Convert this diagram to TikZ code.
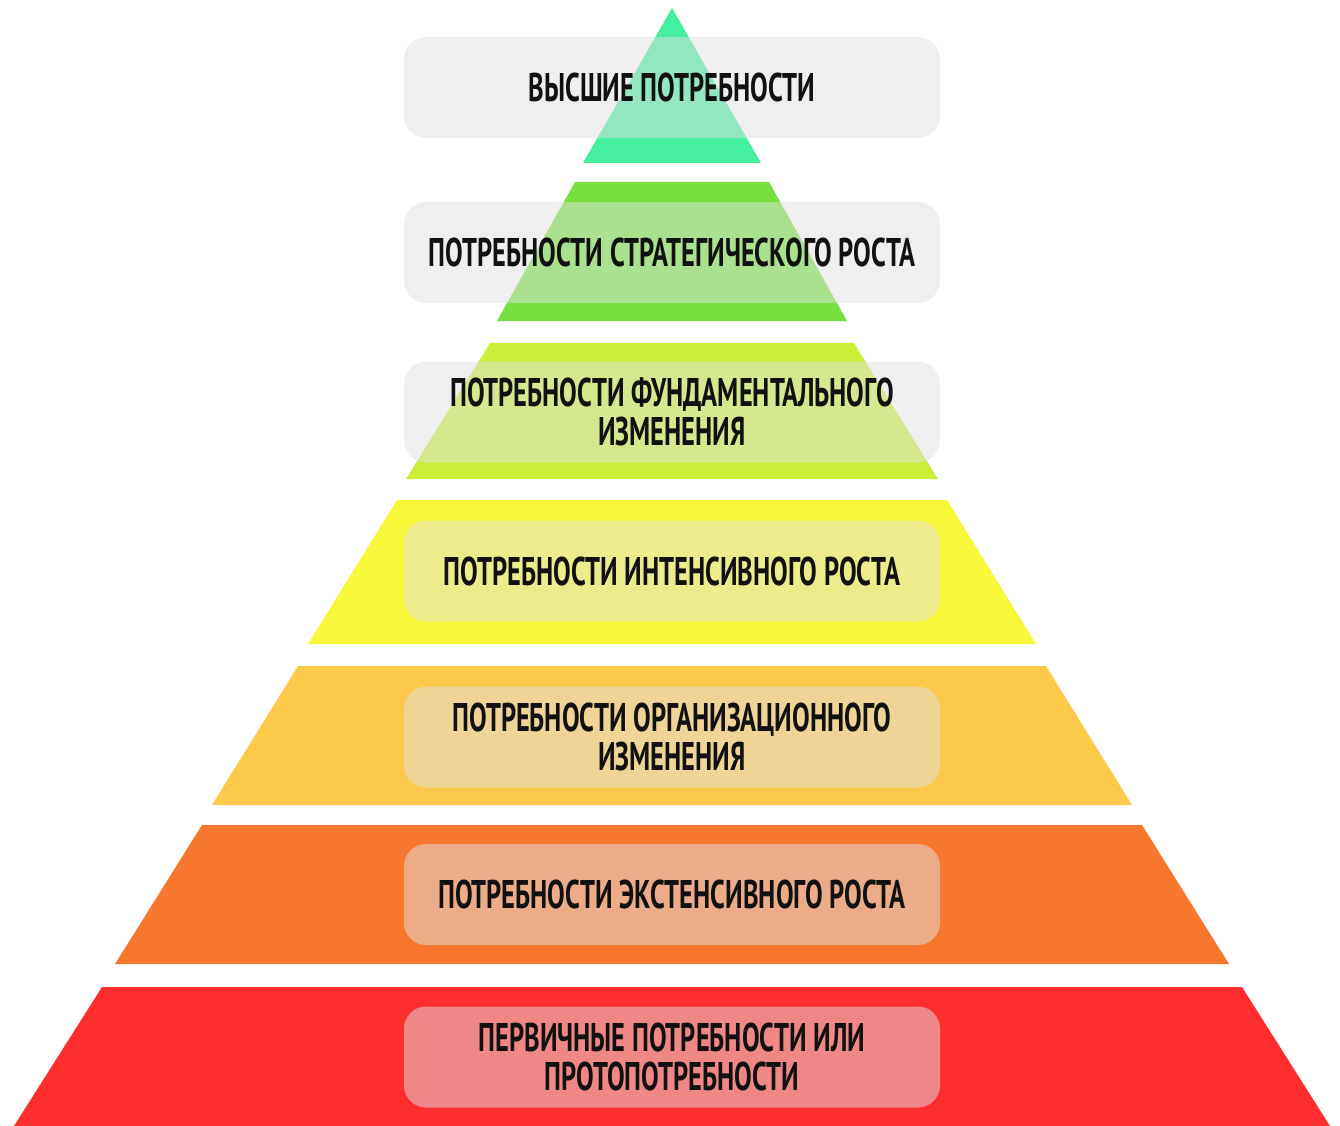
\documentclass[tikz,border=0pt]{standalone}
\usepackage{fontspec}
\setmainfont{PT Sans}[BoldFont={PT Sans Bold}]
\newfontfamily\labelfont{PT Sans Bold}[FakeStretch=0.66]
\definecolor{cA}{RGB}{70,238,160}
\definecolor{cB}{RGB}{118,224,62}
\definecolor{cC}{RGB}{204,240,58}
\definecolor{cD}{RGB}{248,248,58}
\definecolor{cE}{RGB}{253,201,74}
\definecolor{cF}{RGB}{247,120,46}
\definecolor{cG}{RGB}{255,46,46}
\definecolor{boxgray}{RGB}{225,225,225}
\definecolor{txt}{RGB}{17,17,17}
\begin{document}
\begin{tikzpicture}[x=1pt,y=-1pt,
  labelbox/.style={rounded corners=22pt, fill=boxgray, fill opacity=0.5, text opacity=1,
    minimum width=536pt, minimum height=101pt, inner sep=0pt, align=center,
    font=\labelfont\fontsize{40}{39}\selectfont, text=txt}]
\useasboundingbox (0,0) rectangle (1340,1126);
\fill[white] (0,0) rectangle (1340,1126);
% pyramid layers
\fill[cA] (672,8) -- (761,163) -- (583,163) -- cycle;
\fill[cB] (575,182) -- (769,182) -- (847,321) -- (497,321) -- cycle;
\fill[cC] (490,343) -- (854,343) -- (938,479) -- (406,479) -- cycle;
\fill[cD] (397,500) -- (947,500) -- (1036,644) -- (308,644) -- cycle;
\fill[cE] (298,666) -- (1046,666) -- (1132,805) -- (212,805) -- cycle;
\fill[cF] (202,825) -- (1142,825) -- (1229,964) -- (115,964) -- cycle;
\fill[cG] (102,987) -- (1242,987) -- (1330,1126) -- (14,1126) -- cycle;
% label boxes
\node[labelbox] (n1) at (672,87.5) {ВЫСШИЕ ПОТРЕБНОСТИ};
\node[labelbox] (n2) at (672,252.5) {ПОТРЕБНОСТИ СТРАТЕГИЧЕСКОГО РОСТА};
\node[labelbox] (n3) at (672,412) {ПОТРЕБНОСТИ ФУНДАМЕНТАЛЬНОГО\\ИЗМЕНЕНИЯ};
\node[labelbox] (n4) at (672,571) {ПОТРЕБНОСТИ ИНТЕНСИВНОГО РОСТА};
\node[labelbox] (n5) at (672,737) {ПОТРЕБНОСТИ ОРГАНИЗАЦИОННОГО\\ИЗМЕНЕНИЯ};
\node[labelbox] (n6) at (672,894.5) {ПОТРЕБНОСТИ ЭКСТЕНСИВНОГО РОСТА};
\node[labelbox] (n7) at (672,1057) {ПЕРВИЧНЫЕ ПОТРЕБНОСТИ ИЛИ\\ПРОТОПОТРЕБНОСТИ};
\end{tikzpicture}
\end{document}
